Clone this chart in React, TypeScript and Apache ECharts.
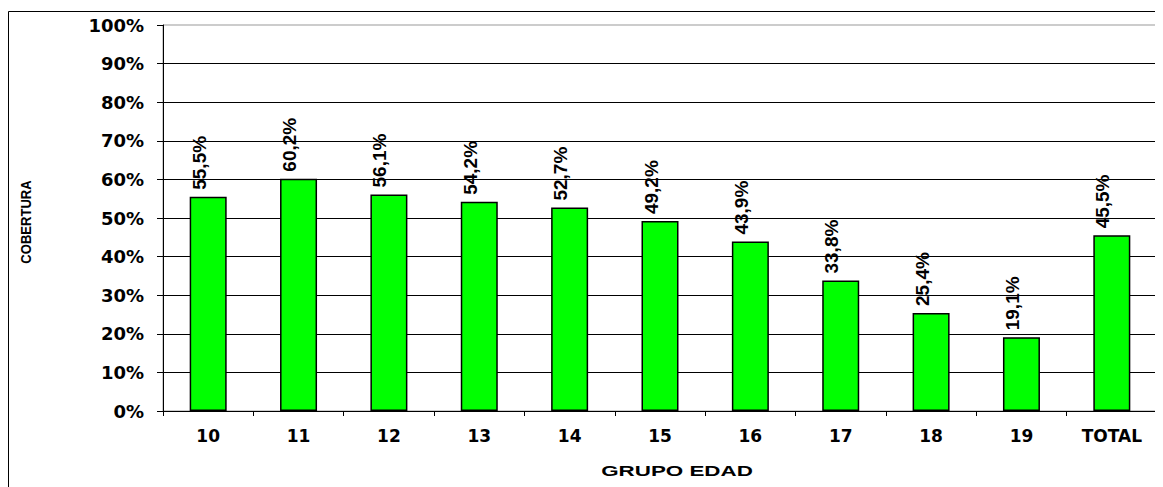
import React, { useEffect, useRef } from "react";
import * as echarts from "echarts";

const categories = ["10", "11", "12", "13", "14", "15", "16", "17", "18", "19", "TOTAL"];
const coverage = [55.5, 60.2, 56.1, 54.2, 52.7, 49.2, 43.9, 33.8, 25.4, 19.1, 45.5];
const yAxisTitle = "COBERTURA";
const xAxisTitle = "GRUPO EDAD";

const FONT = 'Arial, "Liberation Sans", sans-serif';
const WIDE = '"DejaVu Sans", Verdana, sans-serif';

export default function App() {
  const ref = useRef<HTMLDivElement>(null);
  useEffect(() => {
    if (!ref.current) return;
    const chart = echarts.init(ref.current, undefined, { renderer: "svg" });
    chart.setOption({
      animation: false,
      backgroundColor: "#ffffff",
      grid: {
        left: 155,
        right: 6,
        top: 17,
        bottom: 76,
        show: true,
        borderColor: "#999999",
        borderWidth: 1,
        backgroundColor: "transparent",
      },
      xAxis: {
        type: "category",
        data: categories,
        axisLine: { lineStyle: { color: "#000", width: 1 } },
        axisTick: { show: true, length: 5, lineStyle: { color: "#000" } },
        axisLabel: {
          color: "#000",
          fontFamily: WIDE,
          fontWeight: "bold",
          fontSize: 17,
          margin: 16,
        },
      },
      yAxis: {
        type: "value",
        min: 0,
        max: 100,
        interval: 10,
        axisLine: { show: true, lineStyle: { color: "#000", width: 1 } },
        axisTick: { show: true, length: 6, lineStyle: { color: "#000" } },
        axisLabel: {
          formatter: "{value}%",
          color: "#000",
          fontFamily: WIDE,
          fontWeight: "bold",
          fontSize: 18,
          margin: 19,
        },
        splitLine: {
          show: true,
          showMaxLine: false,
          lineStyle: { color: "#000", width: 1 },
        },
      },
      series: [
        {
          type: "bar",
          data: coverage,
          barWidth: 37,
          itemStyle: { color: "#00ff00", borderColor: "#000", borderWidth: 1.5 },
          label: {
            show: true,
            position: "top",
            rotate: 90,
            align: "left",
            verticalAlign: "middle",
            distance: 7,
            offset: [0, -9],
            color: "#000",
            fontFamily: FONT,
            fontWeight: "bold",
            fontSize: 19,
            formatter: (p: any) => p.value.toFixed(1).replace(".", ",") + "%",
          },
        },
      ],
      graphic: [
        {
          type: "rect",
          shape: { x: 0.5, y: 3.5, width: 1400, height: 800 },
          style: { fill: "none", stroke: "#000", lineWidth: 1 },
          silent: true,
          z: -1,
        },
        {
          type: "text",
          x: 18,
          y: 214,
          rotation: Math.PI / 2,
          scaleX: 0.87,
          style: {
            text: yAxisTitle,
            fill: "#000",
            font: `bold 15px ${FONT}`,
            align: "center",
            verticalAlign: "middle",
          },
        },
        {
          type: "text",
          x: 669,
          y: 463,
          scaleX: 1.6,
          style: {
            text: xAxisTitle,
            fill: "#000",
            font: `bold 14px ${FONT}`,
            align: "center",
            verticalAlign: "middle",
          },
        },
      ],
    });
    return () => chart.dispose();
  }, []);
  return <div ref={ref} style={{ width: 1155, height: 479 }} />;
}
